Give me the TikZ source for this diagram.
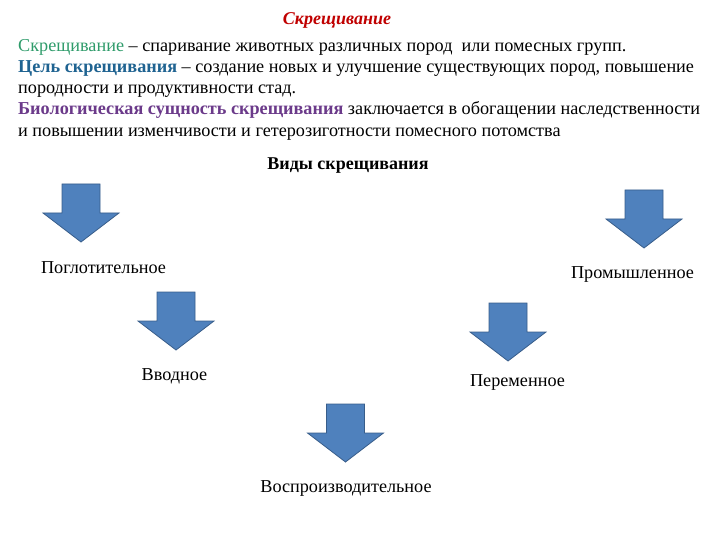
\documentclass[tikz,border=0pt]{standalone}
\usepackage{fontspec}
\setmainfont{Liberation Serif}
\definecolor{titlered}{HTML}{C00000}
\definecolor{termgreen}{HTML}{2E9B6A}
\definecolor{termblue}{HTML}{1F6391}
\definecolor{termpurple}{HTML}{6B3A8A}
\definecolor{arrowblue}{HTML}{4F81BD}
\definecolor{arrowedge}{HTML}{385D8A}
\tikzset{
  txt/.style={anchor=base west, inner sep=0pt, font=\fontsize{18.2}{21}\selectfont},
  kind/.style={inner sep=0pt, font=\fontsize{18.2}{21}\selectfont},
  arrowfill/.style={fill=arrowblue, draw=arrowedge, line width=0.8pt},
  blockarrow/.pic={
    \draw[arrowfill] (-19,0) -- (19,0) -- (19,29) -- (38,29) -- (0,58)
      -- (-38,29) -- (-19,29) -- cycle;
  }
}
\begin{document}
\begin{tikzpicture}[x=1pt, y=-1pt]
  \useasboundingbox (0,0) rectangle (720,540);
  % заголовок и определения
  \node[kind, font=\fontsize{18}{21}\selectfont\bfseries\itshape, text=titlered] (title) at (337,20) {Скрещивание};
  \node[txt] (def1) at (18,52) {\textcolor{termgreen}{Скрещивание} – спаривание животных различных пород\ \ или помесных групп.};
  \node[txt] (def2) at (18,73) {\textcolor{termblue}{\bfseries Цель скрещивания} – создание новых и улучшение существующих пород, повышение};
  \node[txt] (def3) at (18,94) {породности и продуктивности стад.};
  \node[txt] (def4) at (18,115) {\textcolor{termpurple}{\bfseries Биологическая сущность скрещивания} заключается в обогащении наследственности};
  \node[txt] (def5) at (18,137) {и повышении изменчивости и гетерозиготности помесного потомства};
  \node[kind, font=\fontsize{18}{21}\selectfont\bfseries] (kinds) at (348,166) {Виды скрещивания};
  % стрелки
  \pic at (81,184) {blockarrow};
  \pic at (176,292) {blockarrow};
  \pic at (644,190) {blockarrow};
  \pic at (508,303) {blockarrow};
  \pic at (345.5,404) {blockarrow};
  % виды
  \node[kind] (absorb) at (103.5,268) {Поглотительное};
  \node[kind] (indust) at (632.5,274) {Промышленное};
  \node[kind] (intro) at (174.5,376) {Вводное};
  \node[kind] (alter) at (517.5,382) {Переменное};
  \node[kind] (repro) at (346,488) {Воспроизводительное};
\end{tikzpicture}
\end{document}
